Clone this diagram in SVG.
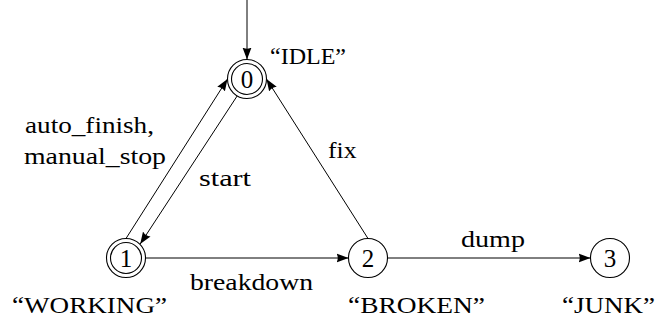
<svg xmlns="http://www.w3.org/2000/svg" width="668" height="320" viewBox="0 0 668 320">
  <style>
    .state { fill: #ffffff; stroke: #000000; stroke-width: 1.1; }
    .ring { fill: none; stroke: #000000; stroke-width: 1.1; }
    text { font-family: 'Liberation Serif', 'DejaVu Serif', serif; fill: #000000; }
    .num { font-size: 25px; text-anchor: middle; }
    .name { font-size: 24px; }
    .lbl { font-size: 24px; }
    .edge { fill: none; stroke: #000000; stroke-width: 1; marker-end: url(#tip); }
  </style>
  <defs>
    <marker id="tip" markerUnits="userSpaceOnUse" markerWidth="13" markerHeight="10" refX="12" refY="5" orient="auto">
      <path d="M0,0.5 L12,5 L0,9.5 Q2.5,5 0,0.5 Z" fill="#000000"/>
    </marker>
  </defs>

  <!-- transitions and their labels -->
  <g id="connectors">
    <line class="edge" x1="247" y1="0" x2="247" y2="59.5"/>
    <line class="edge" x1="126" y1="238.5" x2="227.5" y2="79"/>
    <line class="edge" x1="237.2" y1="95.9" x2="140.2" y2="244"/>
    <line class="edge" x1="368" y1="238.5" x2="266.5" y2="79"/>
    <line class="edge" x1="145.5" y1="258" x2="348.5" y2="258"/>
    <line class="edge" x1="387.5" y1="258" x2="590.5" y2="258"/>
    <text class="lbl" x="25" y="133" textLength="129" lengthAdjust="spacingAndGlyphs">auto_finish,</text>
    <text class="lbl" x="24" y="164" textLength="142" lengthAdjust="spacingAndGlyphs">manual_stop</text>
    <text class="lbl" x="199" y="186" textLength="52" lengthAdjust="spacingAndGlyphs">start</text>
    <text class="lbl" x="328" y="158" textLength="28.5" lengthAdjust="spacingAndGlyphs">fix</text>
    <text class="lbl" x="190" y="290" textLength="123" lengthAdjust="spacingAndGlyphs">breakdown</text>
    <text class="lbl" x="461" y="247" textLength="64" lengthAdjust="spacingAndGlyphs">dump</text>
  </g>

  <!-- state 0: initial, accepting -->
  <g id="state-0">
    <circle class="state" cx="247" cy="79" r="19.5"/>
    <circle class="ring" cx="247" cy="79" r="15.5"/>
    <text class="num" x="247" y="88">0</text>
    <text class="name" x="270" y="64" textLength="76" lengthAdjust="spacingAndGlyphs">“IDLE”</text>
  </g>

  <!-- state 1: accepting -->
  <g id="state-1">
    <circle class="state" cx="126" cy="258" r="19.5"/>
    <circle class="ring" cx="126" cy="258" r="15.5"/>
    <text class="num" x="126" y="267">1</text>
    <text class="name" x="12" y="313" textLength="155" lengthAdjust="spacingAndGlyphs">“WORKING”</text>
  </g>

  <!-- state 2 -->
  <g id="state-2">
    <circle class="state" cx="368" cy="258" r="19.5"/>
    <text class="num" x="368" y="267">2</text>
    <text class="name" x="348" y="313" textLength="137" lengthAdjust="spacingAndGlyphs">“BROKEN”</text>
  </g>

  <!-- state 3 -->
  <g id="state-3">
    <circle class="state" cx="610" cy="258" r="19.5"/>
    <text class="num" x="610" y="267">3</text>
    <text class="name" x="562" y="313" textLength="93" lengthAdjust="spacingAndGlyphs">“JUNK”</text>
  </g>
</svg>
